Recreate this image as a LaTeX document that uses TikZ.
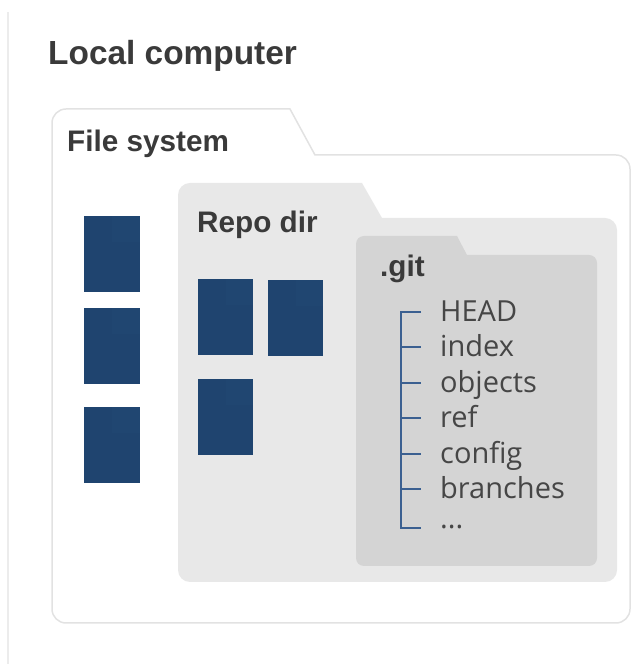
\documentclass[tikz,border=0pt]{standalone}
\usepackage{fontspec}
\setmainfont{Liberation Sans}
\newfontfamily\listfont{Open Sans}
\definecolor{rulegray}{RGB}{236,236,236}
\definecolor{borderwhite}{RGB}{226,226,226}
\definecolor{repofill}{RGB}{232,232,232}
\definecolor{gitfill}{RGB}{212,212,212}
\definecolor{docblue}{RGB}{31,68,111}
\definecolor{docshade}{RGB}{32,70,113}
\definecolor{titlegray}{RGB}{58,58,58}
\definecolor{listgray}{RGB}{70,70,70}
\definecolor{treeblue}{RGB}{59,96,145}
\tikzset{
  title/.style={font=\fontsize{33.4}{40}\selectfont\bfseries, text=titlegray, inner sep=0pt, anchor=base west},
  label/.style={font=\fontsize{29.7}{36}\selectfont\bfseries, text=titlegray, inner sep=0pt, anchor=base west},
  item/.style={font=\listfont\fontsize{29}{34}\selectfont, text=listgray, inner sep=0pt,
    anchor=base west, text height=20pt, text depth=0pt},
  doc/.style={fill=docblue, draw=none, inner sep=0pt, minimum width=56pt, minimum height=76pt},
  tree/.style={draw=treeblue, line width=1.8pt, line join=miter}
}
\begin{document}
\begin{tikzpicture}[x=1pt,y=1pt]
\useasboundingbox (0,0) rectangle (631,664);

% thin rule down the left side of the page
\draw[rulegray, line width=1.5pt] (8,0) -- (8,652);

% file system folder (white with a light outline)
\draw[borderwhite, fill=white, line width=1.5pt]
  (52,55) -- (52,541) arc[start angle=180, end angle=90, radius=14]
  -- (290,555) -- (315,509)
  -- (616,509) arc[start angle=90, end angle=0, radius=14]
  -- (630,55) arc[start angle=0, end angle=-90, radius=14]
  -- (66,41) arc[start angle=270, end angle=180, radius=14] -- cycle;

% repository folder
\fill[repofill]
  (178,94) -- (178,469) arc[start angle=180, end angle=90, radius=12]
  -- (362,481) -- (382,446)
  -- (605,446) arc[start angle=90, end angle=0, radius=12]
  -- (617,94) arc[start angle=0, end angle=-90, radius=12]
  -- (190,82) arc[start angle=270, end angle=180, radius=12] -- cycle;

% .git folder
\fill[gitfill]
  (356,106) -- (356,420) arc[start angle=180, end angle=90, radius=8]
  -- (457,428) -- (467,409)
  -- (589,409) arc[start angle=90, end angle=0, radius=8]
  -- (597,106) arc[start angle=0, end angle=-90, radius=8]
  -- (364,98) arc[start angle=270, end angle=180, radius=8] -- cycle;

% loose files in the file system
\node[doc] (fs1) at (112,410) {};
\node[doc] (fs2) at (112,318) {};
\node[doc] (fs3) at (112,219) {};
% files in the repository
\node[doc, minimum width=55pt] (rp1) at (225.5,347) {};
\node[doc, minimum width=55pt] (rp2) at (295.5,346) {};
\node[doc, minimum width=55pt] (rp3) at (225.5,246.5) {};
% faint folded corner on each file
\foreach \d in {fs1,fs2,fs3,rp1,rp2,rp3}
  \fill[docshade] (\d.north) rectangle ([yshift=-26pt]\d.north east);

% headings
\node[title] (local) at (48,599) {Local computer};
\node[label] (fsys) at (67,512) {File system};
\node[label] (repo) at (197,431) {Repo dir};
\node[label] (git) at (380,387) {.git};

% contents of .git
\node[item] (head) at (440,342) {HEAD};
\node[item] (index) at (440,307) {index};
\node[item] (objects) at (440,271) {objects};
\node[item] (ref) at (440,236) {ref};
\node[item] (config) at (440,200) {config};
\node[item] (branches) at (440,165) {branches};
\node[item] (more) at (440,135) {...};

% tree connecting the entries
\coordinate (trunk) at (401,0);
\coordinate (trunkend) at (401,136);
\draw[tree] (trunk |- head.west) ++(20,0) -- (trunk |- head.west) -- (trunkend) -- ++(20,0);
\foreach \n in {index,objects,ref,config,branches}
  \draw[tree] (trunk |- \n.west) -- ++(20,0);
\end{tikzpicture}
\end{document}
